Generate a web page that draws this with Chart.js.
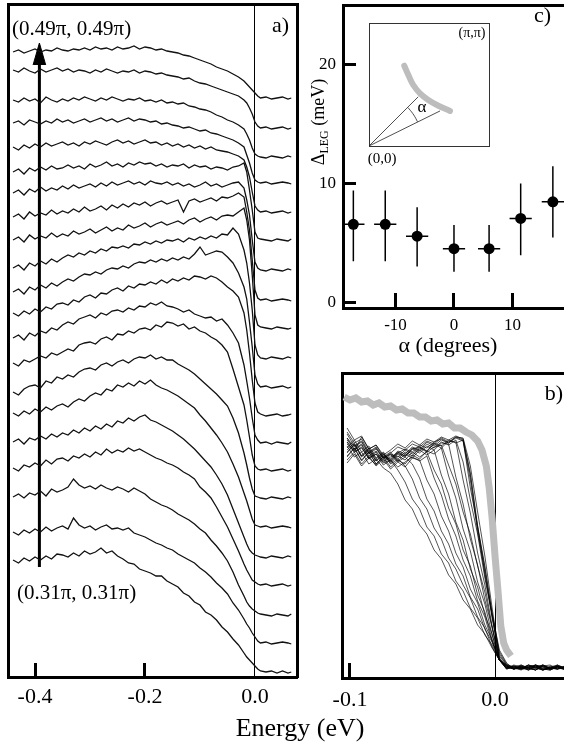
<!DOCTYPE html>
<html>
<head>
<meta charset="utf-8">
<script src="https://cdn.jsdelivr.net/npm/chart.js@4.4.1/dist/chart.umd.min.js"></script>
<style>
  html, body { margin: 0; padding: 0; overflow: hidden; background: #fff; width: 564px; height: 745px; }
  canvas { position: absolute; left: 0; top: 0; }
</style>
</head>
<body>
<canvas id="panelA" width="600" height="745" style="width:600px;height:745px"></canvas>
<canvas id="panelC" width="600" height="745" style="width:600px;height:745px"></canvas>
<canvas id="inset" width="600" height="745" style="width:600px;height:745px"></canvas>
<canvas id="panelB" width="600" height="745" style="width:600px;height:745px"></canvas>
<script>
// ---------- panel a: stacked EDCs ----------
const energyA = [-0.44,-0.43,-0.42,-0.41,-0.40,-0.39,-0.38,-0.37,-0.36,-0.35,
  -0.34,-0.33,-0.32,-0.31,-0.30,-0.29,-0.28,-0.27,-0.26,-0.25,
  -0.24,-0.23,-0.22,-0.21,-0.20,-0.19,-0.18,-0.17,-0.16,-0.15,
  -0.14,-0.13,-0.12,-0.11,-0.10,-0.09,-0.08,-0.07,-0.06,-0.05,
  -0.04,-0.03,-0.02,-0.015,-0.01,-0.005,0,0.005,0.01,0.02,0.03,0.04,0.05,0.06,0.066];

// vertical offset of each spectrum, bottom (0.31pi) to top (0.49pi)
const edcOffsets = [5,34,62,92,120,150,179,207,234,262,290,319,349,377,407,437,465,494,520,549,579];

const edcHeights = [
  [112,109,114,111,115,112,116,113,118,117,115,119,116,121,118,120,124,119,121,116,113,109,108,103,101,99,96,96,91,88,85,79,76,70,67,60,57,52,45,40,33,27,19,15,12,9,6,3,1,0,1,-1,1,-1,0],
  [111,108,113,110,114,111,116,112,115,117,114,125,118,115,117,113,116,118,114,115,113,115,110,108,106,103,100,98,95,93,89,86,83,80,75,71,66,60,55,49,40,33,24,19,15,10,6,2,0,1,-1,0,1,0,-1],
  [118,121,117,122,120,124,119,126,123,125,128,136,130,127,129,126,130,127,125,128,126,123,127,124,121,116,113,110,108,105,101,98,95,91,86,82,75,69,62,54,43,30,19,13,9,6,4,2,1,0,-1,1,0,-1,1],
  [117,114,120,118,122,119,125,121,126,127,124,129,127,131,128,133,130,136,132,135,133,137,134,136,133,130,127,125,122,120,117,113,110,106,98,93,87,78,68,58,46,34,21,15,10,5,3,1,0,1,-1,0,1,-1,0],
  [115,118,113,119,117,121,118,123,120,124,122,127,124,129,126,131,128,133,130,136,134,139,136,140,142,137,135,132,129,126,122,118,113,108,102,96,90,82,73,62,48,34,20,13,7,4,2,1,0,-1,1,0,-1,1,0],
  [114,111,116,113,118,115,120,117,121,123,120,125,128,126,131,134,132,138,136,142,140,144,141,146,143,147,142,139,137,134,131,127,123,119,112,106,99,92,84,75,63,50,34,26,17,8,2,1,0,1,-1,0,1,0,-1],
  [106,103,109,112,113,110,117,115,121,119,123,121,126,129,130,128,133,135,132,136,138,135,139,141,140,143,139,141,138,138,134,131,128,124,119,114,109,104,98,92,80,65,45,33,20,9,2,1,0,-1,1,0,-1,1,0],
  [107,104,110,108,111,114,112,117,115,118,121,119,125,127,128,126,131,133,130,136,135,139,137,141,142,140,145,143,148,147,144,146,141,143,139,137,133,130,125,118,101,83,65,50,33,15,4,1,0,1,-1,0,1,-1,0],
  [105,108,103,110,107,112,110,115,113,118,121,119,124,126,128,125,130,128,132,133,131,135,133,137,136,140,138,141,137,136,134,131,133,129,127,125,126,122,124,118,110,100,78,62,45,25,8,3,0,1,-1,1,0,-1,1],
  [102,99,104,101,106,103,108,106,111,112,110,115,113,118,120,117,122,121,125,127,124,129,127,131,130,133,131,135,132,136,134,137,135,139,138,136,139,137,133,128,124,118,102,85,62,35,12,3,1,-1,0,1,-1,0,1],
  [95,98,93,100,97,102,99,104,101,105,108,106,110,113,112,115,113,117,119,118,121,119,123,125,124,127,125,128,126,129,127,130,128,133,140,132,134,136,135,130,124,114,100,88,65,40,12,3,0,1,-1,0,1,-1,0],
  [90,93,88,95,92,97,94,99,96,100,103,101,105,103,107,105,109,107,111,110,112,110,114,113,116,114,117,115,118,117,119,116,120,118,121,119,122,120,124,123,130,124,108,95,75,48,13,3,0,-1,1,0,-1,1,0],
  [88,91,86,93,89,92,90,95,91,94,92,97,94,96,99,95,98,101,97,100,98,103,100,102,105,101,104,106,103,105,107,104,108,110,106,109,111,108,112,113,112,116,120,108,88,53,13,3,1,0,-1,1,0,-1,0],
  [83,86,81,88,84,87,85,90,86,89,87,91,88,93,89,91,94,90,95,92,96,93,97,95,98,94,97,99,96,98,100,88,99,101,98,100,102,99,103,102,104,107,103,88,70,40,10,2,0,1,-1,0,1,0,-1],
  [77,80,75,81,78,83,79,82,80,84,81,85,82,84,86,83,87,84,88,85,87,89,86,88,85,89,87,86,88,85,87,84,86,83,85,88,84,86,83,85,87,88,82,70,55,30,8,2,0,-1,1,0,-1,1,0],
  [68,71,66,72,69,73,70,74,71,72,75,72,74,71,76,73,75,78,74,76,73,77,75,78,76,77,74,76,73,75,74,76,72,75,73,74,71,73,72,70,73,74,77,68,50,30,8,2,1,0,-1,1,0,-1,1],
  [65,62,67,64,68,65,69,66,68,70,67,69,66,70,68,71,69,67,70,72,69,71,68,70,72,69,70,67,69,66,68,65,67,64,66,63,65,62,61,60,58,56,52,45,35,20,6,2,0,1,-1,0,1,-1,0],
  [60,62,58,63,61,59,62,60,64,61,63,60,62,64,61,63,65,62,64,61,63,65,62,64,63,61,62,59,60,58,57,55,56,54,52,53,50,49,47,45,43,40,36,28,20,10,3,1,0,1,-1,0,1,0,-1],
  [57,55,59,56,58,54,60,57,55,58,56,59,57,60,58,56,59,57,60,58,56,58,57,59,56,57,55,57,54,55,53,54,51,50,48,47,45,42,40,37,35,32,28,23,17,9,3,1,0,-1,1,0,-1,1,0],
  [58,56,60,57,55,59,56,58,60,57,59,56,58,57,55,58,56,59,57,55,57,56,58,55,57,56,54,55,53,52,51,49,50,47,45,44,42,40,38,36,34,32,28,25,20,14,6,2,0,1,-1,0,1,-1,0],
  [46,48,45,47,49,46,48,47,50,48,47,49,48,50,48,51,49,50,48,51,49,50,52,49,51,50,48,49,47,46,45,43,42,40,38,36,34,31,29,27,24,21,17,14,11,8,5,2,0,1,-1,0,1,-1,0]
];
const ticksA = [-0.4, -0.2, 0];
// k-space arrow (energy position, from/to in intensity units)
const arrowE = -0.392, arrowFrom = 110, arrowTo = 634, arrowHalf = 0.0115, arrowHead = 22;

// ---------- panel c: gap vs angle ----------
const alphaDeg   = [-17.2, -11.75, -6.3, 0, 6.0, 11.4, 16.9];
const gapMeV     = [6.55, 6.55, 5.55, 4.5, 4.5, 7.05, 8.45];
const gapErrUp   = [2.85, 2.85, 2.45, 2.0, 2.0, 2.95, 3.0];
const gapErrDown = [3.1, 3.1, 2.55, 1.95, 1.95, 3.1, 3.0];
const alphaErr = 1.9;
const ticksCx = [-10, 0, 10];
const ticksCy = [0, 10, 20];

// inset: Fermi surface sketch, in units of pi
const fsArcX = [0.294, 0.328, 0.369, 0.425, 0.494, 0.578, 0.675];
const fsArcY = [0.653, 0.577, 0.496, 0.428, 0.374, 0.327, 0.285];
const cutA = [0.41, 0.40];
const cutB = [0.592, 0.285];
const angArcX = [0.324, 0.345, 0.364, 0.382, 0.397, 0.404];
const angArcY = [0.313, 0.289, 0.265, 0.238, 0.211, 0.197];

// ---------- panel b: leading edges ----------
const energyB = [-0.102,-0.097,-0.092,-0.087,-0.082,-0.077,-0.072,-0.067,-0.062,-0.057,-0.052,-0.047,-0.042,-0.037,-0.032,-0.027,-0.022,-0.017,-0.012,-0.007,-0.002,0.003,0.008,0.013,0.018,0.023,0.028,0.033,0.038,0.043,0.048];
const leadingEdges = [
  [232,221,226,214,219,210,205,194,178,169,153,144,128,119,103,94,78,69,53,44,30,18,11,9,12,8,10,13,9,11,8],
  [240,228,233,220,226,215,218,208,196,179,169,151,142,124,115,97,87,70,60,43,33,18,12,10,8,11,13,9,10,12,9],
  [225,234,222,229,217,224,214,219,212,199,180,169,150,139,120,109,93,80,61,50,31,18,10,12,9,13,10,8,11,9,12],
  [246,235,239,226,231,220,224,216,221,214,200,179,167,147,134,114,102,81,69,49,36,18,13,9,11,8,12,10,9,13,10],
  [218,226,214,222,212,219,209,216,211,220,218,198,184,162,147,125,111,89,75,53,38,18,9,12,10,8,13,11,9,12,10],
  [236,226,231,219,224,213,218,211,216,221,217,222,200,183,159,142,118,102,77,61,36,18,11,9,13,10,8,12,10,9,11],
  [228,235,222,230,219,225,215,222,218,226,221,226,208,194,170,154,128,112,83,66,38,18,12,10,9,13,11,8,12,10,9],
  [250,238,242,229,233,221,226,217,224,220,228,223,228,203,184,156,138,109,91,63,44,18,9,11,13,10,8,12,9,11,10],
  [221,230,217,226,214,221,211,218,214,223,219,227,224,230,202,180,149,127,96,74,43,18,12,9,10,13,11,9,8,12,10],
  [238,229,234,222,227,217,223,219,226,222,230,226,231,233,213,194,166,144,112,86,50,20,10,13,11,9,12,8,10,11,9],
  [230,238,226,232,220,226,216,224,221,229,225,232,228,235,234,201,174,139,113,78,51,18,11,9,12,10,8,13,10,9,12],
  [244,232,237,225,230,219,224,221,228,224,231,227,234,230,237,236,198,165,125,93,52,18,9,12,10,11,13,9,8,11,10],
  [215,224,212,220,213,222,218,226,222,230,227,234,230,236,233,238,216,178,144,100,62,20,12,10,9,11,8,12,13,9,10],
  [234,226,230,220,224,216,221,225,222,229,231,227,235,232,238,235,238,190,152,103,64,18,10,11,9,12,10,13,8,11,9],
  [226,233,221,228,217,223,219,227,224,231,228,236,232,238,235,241,240,212,166,122,70,22,13,9,11,10,12,8,10,12,9],
  [240,231,236,224,229,220,225,231,228,234,231,237,234,240,236,241,238,203,150,110,63,26,14,10,12,9,11,13,10,9,11],
  [222,230,218,226,214,221,217,225,229,226,233,230,236,239,235,240,237,198,146,106,60,24,13,11,9,12,10,8,11,13,10],
  [236,227,241,229,233,223,228,234,230,237,233,239,236,241,238,242,239,205,152,112,65,28,15,9,11,10,13,11,9,12,10]
];
// reference (gray) edge
const refEnergy = [-0.104,-0.100,-0.096,-0.092,-0.088,-0.084,-0.080,-0.076,-0.072,-0.068,-0.064,-0.060,-0.056,-0.052,-0.048,-0.044,-0.040,-0.036,-0.032,-0.028,-0.024,-0.020,-0.016,-0.012,-0.009,-0.006,-0.004,-0.002,0,0.002,0.004,0.006,0.008,0.011];
const refEdge = [281,278,280,276,277,273,275,271,272,268,269,265,265,261,261,257,258,254,255,250,250,246,243,237,228,212,190,160,122,88,52,35,28,22];
const ticksB = [-0.1, 0];

// ---------- helpers ----------
const SERIF = "'Liberation Serif', 'Times New Roman', Times, serif";
Chart.defaults.font.family = SERIF;
Chart.defaults.color = '#000';
const W = 600, H = 745;

// axis with fixed box size (0 = pure frame line)
function frameAxis(pos, min, max, extra, size) {
  const sz = size || 0;
  return Object.assign({
    type: 'linear', position: pos, min: min, max: max, display: true,
    afterFit: s => {
      if (s.isHorizontal()) s.height = sz; else s.width = sz;
      s.paddingLeft = s.paddingRight = s.paddingTop = s.paddingBottom = 0;
    },
    border: { display: true, width: 3, color: '#000' },
    grid: { display: false },
    ticks: { display: false }
  }, extra || {});
}

function tickAxis(pos, min, max, ticks, o) {
  const isLine = c => o.lineAt !== undefined && c.tick && Math.abs(c.tick.value - o.lineAt) < 1e-9;
  return frameAxis(pos, min, max, {
    afterBuildTicks: s => { s.ticks = ticks.map(v => ({ value: v })); },
    grid: {
      display: true, drawOnChartArea: true, drawTicks: true,
      tickLength: -o.tickLen, tickWidth: 3, lineWidth: 1,
      color: c => isLine(c) ? '#000' : 'rgba(0,0,0,0)',
      tickColor: c => isLine(c) ? 'rgba(0,0,0,0)' : '#000'
    },
    ticks: {
      display: true, padding: o.pad, autoSkip: false, maxRotation: 0, minRotation: 0,
      font: { family: SERIF, size: o.size }, color: '#000', callback: o.fmt
    }
  }, o.box);
}

function labels(items, extra) {
  return {
    id: 'labels',
    afterDraw(chart) {
      const ctx = chart.ctx;
      ctx.save();
      ctx.fillStyle = '#000';
      ctx.textBaseline = 'alphabetic';
      items.forEach(it => {
        ctx.font = it.size + 'px ' + SERIF;
        ctx.textAlign = it.align || 'left';
        ctx.fillText(it.t, it.x, it.y);
      });
      if (extra) extra(ctx);
      ctx.restore();
    }
  };
}

// area = [left, top, right, bottom] of the plot box; boxL / boxB = sizes of labelled axes
function baseOptions(area, scales, boxL, boxB) {
  return {
    responsive: false, animation: false, events: [],
    layout: { padding: { left: area[0] - (boxL || 0), top: area[1], right: W - area[2], bottom: H - area[3] - (boxB || 0) } },
    plugins: { legend: { display: false }, tooltip: { enabled: false } },
    elements: { point: { radius: 0 }, line: { tension: 0 } },
    scales: scales
  };
}

// ---------- panel a ----------
const aSets = edcHeights.map((h, k) => ({
  data: energyA.map((e, i) => ({ x: e, y: h[i] + edcOffsets[k] })),
  borderColor: '#111', borderWidth: 1.3, fill: false
}));
aSets.push({
  data: [{ x: arrowE, y: arrowFrom }, { x: arrowE, y: arrowTo - arrowHead + 2 }],
  borderColor: '#000', borderWidth: 3, fill: false
});
aSets.push({
  data: [{ x: arrowE - arrowHalf, y: arrowTo - arrowHead }, { x: arrowE, y: arrowTo }, { x: arrowE + arrowHalf, y: arrowTo - arrowHead }],
  borderColor: '#000', borderWidth: 1, backgroundColor: '#000', fill: { value: arrowTo - arrowHead }
});

new Chart(document.getElementById('panelA'), {
  type: 'line',
  data: { datasets: aSets },
  options: baseOptions([8, 4, 297, 677], {
    x: tickAxis('bottom', -0.4491, 0.0764, ticksA, { tickLen: 14, pad: 21, size: 22, fmt: v => v.toFixed(1), lineAt: 0, box: 48 }),
    x2: frameAxis('top', -0.4491, 0.0764),
    y: frameAxis('left', 0, 673),
    y2: frameAxis('right', 0, 673)
  }, 0, 48),
  plugins: [labels([
    { t: '(0.49\u03c0, 0.49\u03c0)', x: 12, y: 35, size: 21 },
    { t: 'a)', x: 289, y: 32, size: 22, align: 'right' },
    { t: '(0.31\u03c0, 0.31\u03c0)', x: 17, y: 599, size: 21 },
    { t: 'Energy (eV)', x: 300, y: 736, size: 26, align: 'center' }
  ])]
});

// ---------- panel c ----------
const barsV = [], barsH = [];
alphaDeg.forEach((a, i) => {
  barsV.push({ x: a, y: gapMeV[i] - gapErrDown[i] }, { x: a, y: gapMeV[i] + gapErrUp[i] }, { x: a, y: null });
  barsH.push({ x: a - alphaErr, y: gapMeV[i] }, { x: a + alphaErr, y: gapMeV[i] }, { x: a, y: null });
});

new Chart(document.getElementById('panelC'), {
  type: 'line',
  data: { datasets: [
    { data: alphaDeg.map((a, i) => ({ x: a, y: gapMeV[i] })), showLine: false, pointRadius: 5.5, pointBackgroundColor: '#000', pointBorderWidth: 0 },
    { data: barsV, borderColor: '#000', borderWidth: 1.5, spanGaps: false },
    { data: barsH, borderColor: '#000', borderWidth: 1.5, spanGaps: false }
  ] },
  options: baseOptions([343, 5, 570, 308], {
    x: tickAxis('bottom', -18.97, 19.83, ticksCx, { tickLen: 15, pad: 22, size: 17, fmt: v => String(v), box: 38 }),
    x2: frameAxis('top', -18.97, 19.83),
    y: tickAxis('left', -0.5, 25, ticksCy, { tickLen: 13, pad: 20, size: 17, fmt: v => String(v), box: 34 }),
    y2: frameAxis('right', -0.5, 25)
  }, 34, 38),
  plugins: [labels([
    { t: 'c)', x: 551, y: 22, size: 22, align: 'right' },
    { t: '\u03b1 (degrees)', x: 448, y: 352, size: 22, align: 'center' }
  ], ctx => {
    // rotated y title with subscript
    ctx.translate(318, 122);
    ctx.rotate(-Math.PI / 2);
    ctx.textAlign = 'left';
    const big = '18px ' + SERIF, small = '12px ' + SERIF;
    ctx.font = big; const w1 = ctx.measureText('\u0394').width, w3 = ctx.measureText(' (meV)').width;
    ctx.font = small; const w2 = ctx.measureText('LEG').width;
    const x0 = -(w1 + w2 + w3) / 2;
    ctx.font = big; ctx.fillText('\u0394', x0, 6);
    ctx.font = small; ctx.fillText('LEG', x0 + w1, 10);
    ctx.font = big; ctx.fillText(' (meV)', x0 + w1 + w2, 6);
  })]
});

// ---------- inset ----------
const thin = { display: true, width: 1, color: '#333' };
new Chart(document.getElementById('inset'), {
  type: 'line',
  data: { datasets: [
    { data: [{ x: 0, y: 0 }, { x: cutA[0], y: cutA[1] }], borderColor: '#222', borderWidth: 0.8 },
    { data: [{ x: 0, y: 0 }, { x: cutB[0], y: cutB[1] }], borderColor: '#222', borderWidth: 0.8 },
    { data: angArcX.map((x, i) => ({ x: x, y: angArcY[i] })), borderColor: '#222', borderWidth: 0.8, tension: 0.4 },
    { data: fsArcX.map((x, i) => ({ x: x, y: fsArcY[i] })), borderColor: '#bdbdbd', borderWidth: 6, borderCapStyle: 'round', tension: 0.4 }
  ] },
  options: baseOptions([369, 23, 489, 146], {
    x: frameAxis('bottom', 0, 1, { border: thin }),
    x2: frameAxis('top', 0, 1, { border: thin }),
    y: frameAxis('left', 0, 1, { border: thin }),
    y2: frameAxis('right', 0, 1, { border: thin })
  }),
  plugins: [labels([
    { t: '(\u03c0,\u03c0)', x: 472, y: 37, size: 14, align: 'center' },
    { t: '(0,0)', x: 382, y: 163, size: 15, align: 'center' },
    { t: '\u03b1', x: 422, y: 112, size: 17, align: 'center' }
  ])]
});

// ---------- panel b ----------
const bSets = leadingEdges.map(v => ({
  data: energyB.map((e, i) => ({ x: e, y: v[i] })),
  borderColor: 'rgba(0,0,0,0.85)', borderWidth: 0.8, fill: false, order: 0
}));
bSets.push({
  data: refEnergy.map((e, i) => ({ x: e, y: refEdge[i] })),
  borderColor: '#bdbdbd', borderWidth: 7, fill: false, order: 1
});

new Chart(document.getElementById('panelB'), {
  type: 'line',
  data: { datasets: bSets },
  options: baseOptions([342, 373, 570, 678], {
    x: tickAxis('bottom', -0.1055, 0.0517, ticksB, { tickLen: 15, pad: 24, size: 22, fmt: v => v.toFixed(1), lineAt: 0, box: 45 }),
    x2: frameAxis('top', -0.1055, 0.0517),
    y: frameAxis('left', 0, 305),
    y2: frameAxis('right', 0, 305)
  }, 0, 45),
  plugins: [labels([
    { t: 'b)', x: 563, y: 400, size: 22, align: 'right' }
  ])]
});
</script>
</body>
</html>
